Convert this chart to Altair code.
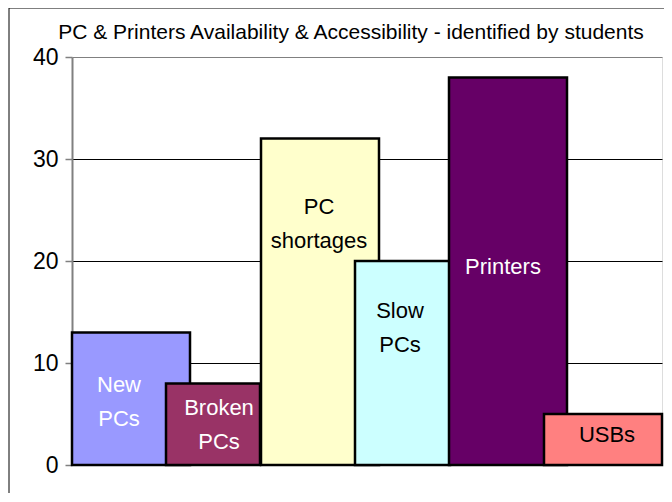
import altair as alt
import pandas as pd

categories = ["New PCs", "Broken PCs", "PC shortages", "Slow PCs", "Printers", "USBs"]
values = [13, 8, 32, 20, 38, 5]
bar_start = [0, 94, 189, 283, 377, 472]
bar_end = [118, 188, 307, 378, 495, 590]
colors = ["#9999FF", "#993366", "#FFFFCC", "#CCFFFF", "#660066", "#FF8080"]
label_text = ["New\nPCs", "Broken\nPCs", "PC\nshortages", "Slow\nPCs", "Printers", "USBs"]
label_color = ["white", "white", "black", "black", "white", "black"]
label_x = [47, 147, 247, 328, 431, 535]
label_y = [7.8, 5.6, 25.3, 15.1, 19.4, 2.9]
y_ticks = [0, 10, 20, 30, 40]
title_text = "PC & Printers Availability & Accessibility  - identified by students"

df = pd.DataFrame({
    "category": categories,
    "value": values,
    "start": bar_start,
    "end": bar_end,
    "color": colors,
    "label": label_text,
    "lcolor": label_color,
    "lx": label_x,
    "ly": label_y,
})

xscale = alt.Scale(domain=[0, 590], nice=False)
yscale = alt.Scale(domain=[0, 40], nice=False)

one = alt.Chart(df).transform_filter(alt.datum.category == "New PCs")

frame_left = one.mark_rule(color="black", strokeWidth=1).encode(
    x=alt.value(-63), y=alt.value(-49), y2=alt.value(600)
)
frame_top = one.mark_rule(color="black", strokeWidth=1).encode(
    x=alt.value(-63), x2=alt.value(720), y=alt.value(-49)
)

title = one.mark_text(
    font="Liberation Sans", fontSize=21, align="center", baseline="alphabetic", color="black"
).encode(x=alt.value(279), y=alt.value(-18), text=alt.value(title_text))

bars = alt.Chart(df).mark_rect(stroke="black", strokeWidth=2.5).encode(
    x=alt.X("start:Q", scale=xscale, axis=None),
    x2="end:Q",
    y=alt.Y("value:Q", scale=yscale, axis=alt.Axis(
        values=y_ticks, title=None, grid=True,
        gridColor={"condition": {"test": "datum.value === 40", "value": "#808080"}, "value": "black"},
        gridWidth=1, domainColor="#808080", domainWidth=2,
        tickColor="#808080", tickSize=7, tickWidth=1.5,
        labelFont="Liberation Sans", labelFontSize=23, labelColor="black", labelPadding=7)),
    y2=alt.datum(0),
    fill=alt.Fill("color:N", scale=None),
)

labels = alt.Chart(df).mark_text(
    font="Liberation Sans", fontSize=22, lineBreak="\n", lineHeight=34,
    align="center", baseline="middle"
).encode(
    x=alt.X("lx:Q", scale=xscale),
    y=alt.Y("ly:Q", scale=yscale),
    text="label:N",
    color=alt.Color("lcolor:N", scale=None),
)

chart = alt.layer(frame_left, frame_top, bars, labels, title).properties(
    width=590, height=408,
    autosize=alt.AutoSizeParams(type="none"),
    padding={"left": 64, "top": 49, "right": 2, "bottom": 28},
).configure_view(stroke="#808080", strokeWidth=2).configure(background="white")

chart.save("out.html", embed_options={"renderer": "svg", "actions": False})
